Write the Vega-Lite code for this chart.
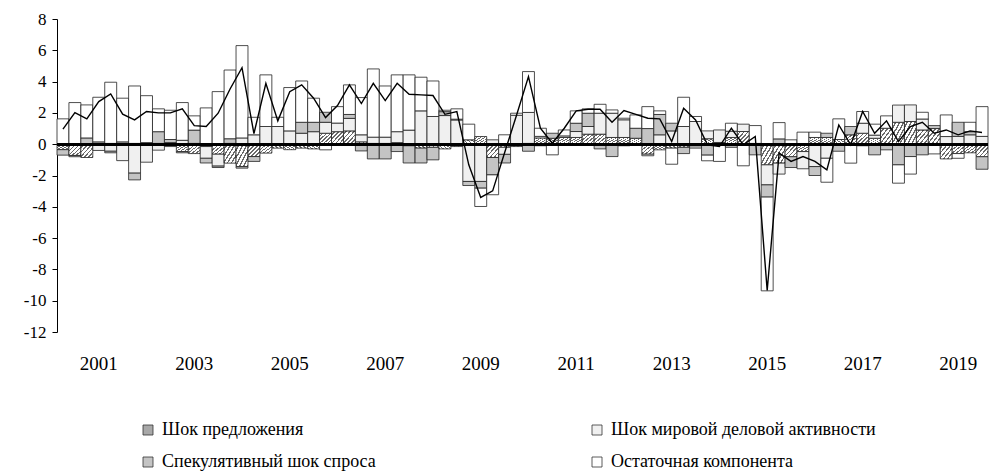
{
  "$schema": "https://vega.github.io/schema/vega-lite/v6.json",
  "width": 931,
  "height": 313,
  "autosize": {"type": "none"},
  "padding": {"left": 57, "top": 19, "right": 2, "bottom": 142},
  "background": "white",
  "config": {
    "font": "Liberation Serif",
    "view": {"stroke": null},
    "axis": {"labelFont": "Liberation Serif", "labelColor": "#000", "grid": false, "labelOverlap": false}
  },
  "data": {"values": [
    {"q":"2000Q2","s1":-0.35,"s2":0,"s3":-0.35,"s4":1.62,"total":0.96},
    {"q":"2000Q3","s1":-0.72,"s2":0,"s3":-0.08,"s4":2.66,"total":2.02},
    {"q":"2000Q4","s1":-0.85,"s2":0,"s3":0.4,"s4":2.11,"total":1.62},
    {"q":"2001Q1","s1":-0.05,"s2":-0.35,"s3":0.15,"s4":2.85,"total":2.72},
    {"q":"2001Q2","s1":0.05,"s2":-0.45,"s3":-0.1,"s4":3.91,"total":3.21},
    {"q":"2001Q3","s1":-0.05,"s2":-1.0,"s3":0.15,"s4":2.79,"total":1.92},
    {"q":"2001Q4","s1":0.05,"s2":-1.85,"s3":-0.43,"s4":3.67,"total":1.55},
    {"q":"2002Q1","s1":0.05,"s2":-1.15,"s3":0.05,"s4":3.0,"total":2.09},
    {"q":"2002Q2","s1":0.05,"s2":-0.38,"s3":0.75,"s4":1.46,"total":2.0},
    {"q":"2002Q3","s1":0.1,"s2":-0.15,"s3":0.2,"s4":1.87,"total":2.0},
    {"q":"2002Q4","s1":-0.47,"s2":0.25,"s3":-0.08,"s4":2.41,"total":2.26},
    {"q":"2003Q1","s1":-0.6,"s2":0.05,"s3":0.85,"s4":0.91,"total":1.19},
    {"q":"2003Q2","s1":-0.15,"s2":-0.75,"s3":-0.3,"s4":2.32,"total":1.13},
    {"q":"2003Q3","s1":-0.64,"s2":-0.76,"s3":-0.09,"s4":3.36,"total":1.98},
    {"q":"2003Q4","s1":-1.21,"s2":0.05,"s3":0.3,"s4":4.39,"total":3.53},
    {"q":"2004Q1","s1":-1.43,"s2":0.4,"s3":-0.1,"s4":5.9,"total":4.89},
    {"q":"2004Q2","s1":-0.79,"s2":0.6,"s3":-0.31,"s4":1.12,"total":0.68},
    {"q":"2004Q3","s1":-0.57,"s2":1.13,"s3":0,"s4":3.3,"total":3.89},
    {"q":"2004Q4","s1":-0.25,"s2":1.13,"s3":0,"s4":0.59,"total":1.49},
    {"q":"2005Q1","s1":-0.35,"s2":0.85,"s3":0,"s4":2.77,"total":3.36},
    {"q":"2005Q2","s1":-0.25,"s2":0.7,"s3":0.7,"s4":2.64,"total":3.79},
    {"q":"2005Q3","s1":-0.3,"s2":0.8,"s3":0.6,"s4":1.54,"total":2.94},
    {"q":"2005Q4","s1":0.7,"s2":0.7,"s3":0.64,"s4":-0.36,"total":1.7},
    {"q":"2006Q1","s1":0.8,"s2":0.55,"s3":0,"s4":1.05,"total":2.47},
    {"q":"2006Q2","s1":0.85,"s2":0.8,"s3":0.25,"s4":1.89,"total":3.79},
    {"q":"2006Q3","s1":0.15,"s2":0.45,"s3":-0.43,"s4":2.38,"total":2.6},
    {"q":"2006Q4","s1":0.05,"s2":0.4,"s3":-0.94,"s4":4.36,"total":3.89},
    {"q":"2007Q1","s1":0.05,"s2":0.4,"s3":-0.94,"s4":3.27,"total":2.79},
    {"q":"2007Q2","s1":0.1,"s2":0.7,"s3":-0.47,"s4":3.63,"total":3.89},
    {"q":"2007Q3","s1":-0.1,"s2":0.9,"s3":-1.1,"s4":3.53,"total":3.19},
    {"q":"2007Q4","s1":-0.25,"s2":2.13,"s3":-0.95,"s4":2.15,"total":3.15},
    {"q":"2008Q1","s1":-0.2,"s2":1.77,"s3":-0.8,"s4":2.27,"total":3.11},
    {"q":"2008Q2","s1":-0.3,"s2":1.83,"s3":0.25,"s4":0.09,"total":1.91},
    {"q":"2008Q3","s1":-0.15,"s2":1.55,"s3":0.05,"s4":0.66,"total":2.09},
    {"q":"2008Q4","s1":0.28,"s2":-2.38,"s3":-0.26,"s4":1.0,"total":-1.32},
    {"q":"2009Q1","s1":0.49,"s2":-2.38,"s3":-0.43,"s4":-1.17,"total":-3.4},
    {"q":"2009Q2","s1":-0.85,"s2":0.28,"s3":-1.11,"s4":-1.27,"total":-2.98},
    {"q":"2009Q3","s1":-0.2,"s2":-0.45,"s3":-0.55,"s4":0.6,"total":-0.55},
    {"q":"2009Q4","s1":-0.15,"s2":1.85,"s3":0,"s4":0.13,"total":1.85},
    {"q":"2010Q1","s1":0.05,"s2":1.98,"s3":-0.45,"s4":2.61,"total":4.32},
    {"q":"2010Q2","s1":0.4,"s2":0.1,"s3":-0.1,"s4":0.52,"total":1.02},
    {"q":"2010Q3","s1":0.38,"s2":0,"s3":0.32,"s4":-0.68,"total":0.06},
    {"q":"2010Q4","s1":0.43,"s2":0.1,"s3":-0.05,"s4":0.38,"total":1.02},
    {"q":"2011Q1","s1":0.43,"s2":0.38,"s3":0.53,"s4":0.79,"total":2.13},
    {"q":"2011Q2","s1":0.64,"s2":0.49,"s3":0.85,"s4":0.28,"total":2.23},
    {"q":"2011Q3","s1":0.64,"s2":1.34,"s3":-0.3,"s4":0.57,"total":2.23},
    {"q":"2011Q4","s1":0.43,"s2":1.55,"s3":-0.79,"s4":0.21,"total":1.4},
    {"q":"2012Q1","s1":0.43,"s2":1.13,"s3":-0.1,"s4":0.1,"total":2.15},
    {"q":"2012Q2","s1":0.38,"s2":0,"s3":0.64,"s4":0.85,"total":1.91},
    {"q":"2012Q3","s1":-0.64,"s2":-0.1,"s3":1.0,"s4":1.4,"total":1.66},
    {"q":"2012Q4","s1":-0.36,"s2":0.6,"s3":1.3,"s4":0.23,"total":1.62},
    {"q":"2013Q1","s1":-0.25,"s2":0.85,"s3":0.49,"s4":-1.03,"total":0.17},
    {"q":"2013Q2","s1":-0.2,"s2":1.13,"s3":-0.4,"s4":1.87,"total":2.3},
    {"q":"2013Q3","s1":-0.1,"s2":1.45,"s3":-0.15,"s4":0.32,"total":1.55},
    {"q":"2013Q4","s1":0.35,"s2":0.5,"s3":-0.7,"s4":-0.36,"total":-0.04},
    {"q":"2014Q1","s1":0.11,"s2":0.8,"s3":-0.05,"s4":-1.05,"total":-0.15},
    {"q":"2014Q2","s1":0.43,"s2":0.4,"s3":-0.2,"s4":0.51,"total":1.02},
    {"q":"2014Q3","s1":0.81,"s2":0.47,"s3":0,"s4":-1.38,"total":-0.04},
    {"q":"2014Q4","s1":0.05,"s2":0,"s3":-0.68,"s4":1.14,"total":0.49},
    {"q":"2015Q1","s1":-1.32,"s2":-1.28,"s3":-0.78,"s4":-5.99,"total":-9.35},
    {"q":"2015Q2","s1":-1.21,"s2":-0.7,"s3":0.34,"s4":1.04,"total":-0.57},
    {"q":"2015Q3","s1":-0.8,"s2":0,"s3":-0.69,"s4":0.28,"total":-1.1},
    {"q":"2015Q4","s1":-0.47,"s2":-1.1,"s3":0,"s4":0.77,"total":-0.79},
    {"q":"2016Q1","s1":0.43,"s2":-1.43,"s3":-0.57,"s4":0.34,"total":-1.1},
    {"q":"2016Q2","s1":0.43,"s2":-0.9,"s3":0.27,"s4":-1.53,"total":-1.64},
    {"q":"2016Q3","s1":0.3,"s2":0,"s3":-0.45,"s4":1.32,"total":1.23},
    {"q":"2016Q4","s1":0.6,"s2":0,"s3":0.53,"s4":-1.21,"total":-0.04},
    {"q":"2017Q1","s1":0.7,"s2":0.64,"s3":-0.1,"s4":0.75,"total":2.09},
    {"q":"2017Q2","s1":0.38,"s2":0.2,"s3":-0.68,"s4":0.7,"total":0.7},
    {"q":"2017Q3","s1":1.02,"s2":0,"s3":-0.36,"s4":0.79,"total":1.49},
    {"q":"2017Q4","s1":1.4,"s2":1.1,"s3":-1.32,"s4":-1.17,"total":0.17},
    {"q":"2018Q1","s1":1.45,"s2":1.06,"s3":-0.79,"s4":-1.12,"total":1.13},
    {"q":"2018Q2","s1":0.91,"s2":0.7,"s3":-0.68,"s4":0.43,"total":1.4},
    {"q":"2018Q3","s1":1.0,"s2":0,"s3":0.19,"s4":-0.62,"total":0.7},
    {"q":"2018Q4","s1":-0.94,"s2":0.49,"s3":0,"s4":1.38,"total":0.91},
    {"q":"2019Q1","s1":-0.6,"s2":0.5,"s3":0.9,"s4":-0.3,"total":0.6},
    {"q":"2019Q2","s1":-0.55,"s2":0.6,"s3":0.2,"s4":0.6,"total":0.85},
    {"q":"2019Q3","s1":-0.8,"s2":0.5,"s3":-0.8,"s4":1.9,"total":0.75}
  ]},
  "encoding": {
    "x": {
      "field": "q", "type": "ordinal", "sort": null,
      "scale": {"paddingInner": 0, "paddingOuter": 0},
      "axis": {
        "title": null, "domain": false, "ticks": false, "labelAngle": 0,
        "values": ["2001Q1","2003Q1","2005Q1","2007Q1","2009Q1","2011Q1","2013Q1","2015Q1","2017Q1","2019Q1"],
        "labelExpr": "slice(datum.value, 0, 4)",
        "labelFontSize": 19, "labelPadding": 22, "labelOverlap": false
      }
    }
  },
  "layer": [
    {
      "transform": [
        {"fold": ["s1","s2","s3","s4"], "as": ["s","v"]},
        {"filter": "datum.v != 0"}
      ],
      "mark": {"type": "bar", "stroke": "#222", "strokeWidth": 0.8},
      "encoding": {
        "y": {
          "field": "v", "type": "quantitative", "stack": "zero",
          "scale": {"domain": [-12, 8], "nice": false, "zero": false},
          "axis": {
            "title": null, "values": [-12,-10,-8,-6,-4,-2,0,2,4,6,8],
            "labelExpr": "toString(datum.value)", "labelOverlap": false,
            "domainColor": "#000", "tickColor": "#000", "tickSize": 5,
            "labelFontSize": 17, "labelPadding": 6
          }
        },
        "order": {"field": "s", "sort": "ascending"},
        "fill": {
          "field": "s", "type": "nominal",
          "condition": {"test": "datum.s == 's1'", "value": {"gradient": "linear", "x1": 0, "y1": 0, "x2": 1, "y2": 1, "stops": [
                {"offset": 0, "color": "#ffffff"}, {"offset": 0.103, "color": "#ffffff"}, {"offset": 0.103, "color": "#6a6a6a"}, {"offset": 0.1667, "color": "#6a6a6a"},
                {"offset": 0.1667, "color": "#ffffff"}, {"offset": 0.27, "color": "#ffffff"}, {"offset": 0.27, "color": "#6a6a6a"}, {"offset": 0.3333, "color": "#6a6a6a"},
                {"offset": 0.3333, "color": "#ffffff"}, {"offset": 0.437, "color": "#ffffff"}, {"offset": 0.437, "color": "#6a6a6a"}, {"offset": 0.5, "color": "#6a6a6a"},
                {"offset": 0.5, "color": "#ffffff"}, {"offset": 0.603, "color": "#ffffff"}, {"offset": 0.603, "color": "#6a6a6a"}, {"offset": 0.6667, "color": "#6a6a6a"},
                {"offset": 0.6667, "color": "#ffffff"}, {"offset": 0.77, "color": "#ffffff"}, {"offset": 0.77, "color": "#6a6a6a"}, {"offset": 0.8333, "color": "#6a6a6a"},
                {"offset": 0.8333, "color": "#ffffff"}, {"offset": 0.937, "color": "#ffffff"}, {"offset": 0.937, "color": "#6a6a6a"}, {"offset": 1, "color": "#6a6a6a"}
              ]}},
          "scale": {
            "domain": ["s1","s2","s3","s4"],
            "range": ["#a8a8a8", "#f0f0f0", "#c4c4c4", "#ffffff"]
          },
          "legend": {
            "title": null, "orient": "none", "legendX": 82, "legendY": 402,
            "direction": "horizontal", "columns": 2, "columnPadding": 212, "rowPadding": 14,
            "symbolType": "square", "symbolSize": 100, "symbolStrokeColor": "#333", "symbolStrokeWidth": 0.8,
            "labelFont": "Liberation Serif", "labelFontSize": 18, "labelColor": "#000", "labelOffset": 5, "labelLimit": 400,
            "labelExpr": "datum.value == 's1' ? 'Шок предложения' : datum.value == 's2' ? 'Шок мировой деловой активности' : datum.value == 's3' ? 'Спекулятивный шок спроса' : 'Остаточная компонента'",
            "encode": {
              "symbols": {
                "update": {
                  "stroke": {"value": "#333"},
                  "strokeWidth": {"value": 0.8},
                  "fill": [
                    {"test": "datum.value === 's1'", "value": {"gradient": "linear", "x1": 0, "y1": 0, "x2": 1, "y2": 1, "stops": [
                      {"offset": 0, "color": "#ffffff"}, {"offset": 0.14, "color": "#ffffff"}, {"offset": 0.14, "color": "#6a6a6a"}, {"offset": 0.25, "color": "#6a6a6a"},
                      {"offset": 0.25, "color": "#ffffff"}, {"offset": 0.39, "color": "#ffffff"}, {"offset": 0.39, "color": "#6a6a6a"}, {"offset": 0.5, "color": "#6a6a6a"},
                      {"offset": 0.5, "color": "#ffffff"}, {"offset": 0.64, "color": "#ffffff"}, {"offset": 0.64, "color": "#6a6a6a"}, {"offset": 0.75, "color": "#6a6a6a"},
                      {"offset": 0.75, "color": "#ffffff"}, {"offset": 0.89, "color": "#ffffff"}, {"offset": 0.89, "color": "#6a6a6a"}, {"offset": 1, "color": "#6a6a6a"}
                    ]}},
                    {"scale": "fill", "field": "value"}
                  ]
                }
              }
            }
          }
        }
      }
    },
    {
      "mark": {"type": "rule", "color": "#000", "strokeWidth": 2},
      "encoding": {
        "y": {"datum": 0, "type": "quantitative", "axis": {
            "title": null, "values": [-12,-10,-8,-6,-4,-2,0,2,4,6,8],
            "labelExpr": "toString(datum.value)", "labelOverlap": false,
            "domainColor": "#000", "tickColor": "#000", "tickSize": 5,
            "labelFontSize": 17, "labelPadding": 6
          }},
        "x": {"value": 0}, "x2": {"value": 931}
      }
    },
    {
      "mark": {"type": "line", "color": "#000", "strokeWidth": 1.4},
      "encoding": {
        "y": {"field": "total", "type": "quantitative", "axis": {
            "title": null, "values": [-12,-10,-8,-6,-4,-2,0,2,4,6,8],
            "labelExpr": "toString(datum.value)", "labelOverlap": false,
            "domainColor": "#000", "tickColor": "#000", "tickSize": 5,
            "labelFontSize": 17, "labelPadding": 6
          }}
      }
    }
  ]
}
